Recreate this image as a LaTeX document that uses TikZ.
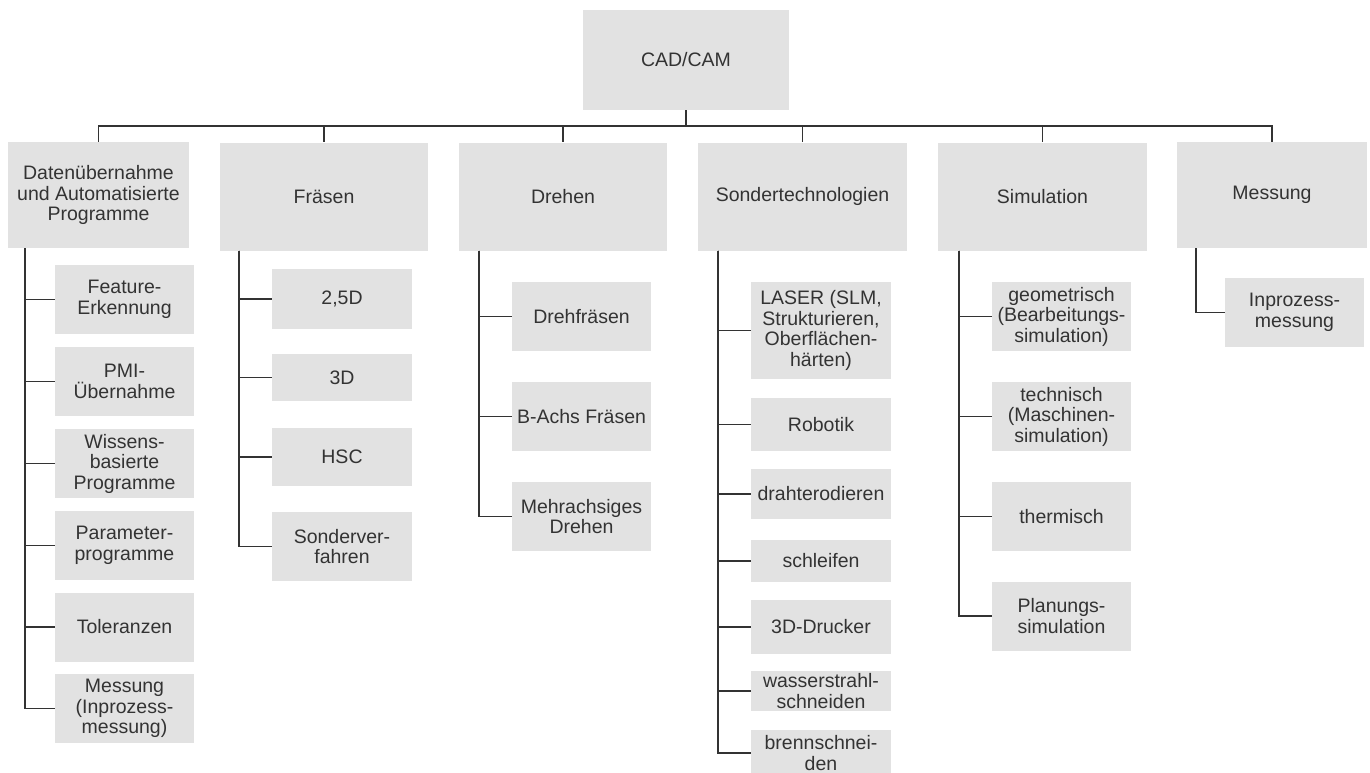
\documentclass[tikz,border=0pt]{standalone}
\usepackage{fontspec}
\setmainfont{Liberation Sans}
\definecolor{boxgray}{HTML}{E2E2E2}
\definecolor{linegray}{HTML}{333333}
\definecolor{txtgray}{HTML}{333333}

\begin{document}
\begin{tikzpicture}[x=1pt, y=-1pt,
    box/.style={fill=boxgray, inner sep=0pt, align=center, text=txtgray,
      font=\fontsize{19.5}{20.5}\selectfont},
    lone/.style={box, minimum width=208pt, minimum height=108pt},
    ltwo/.style={box, minimum width=139pt, minimum height=69pt},
    conn/.style={draw=linegray, line width=1.5pt}]
  \useasboundingbox (0,0) rectangle (1370,773);

  % top
  \node[box, minimum width=206pt, minimum height=100pt] (cad) at (686,60) {CAD/CAM};

  % first level
  \node[lone, minimum width=181pt, minimum height=106pt] (daten) at (98.5,195) {Datenübernahme\\und Automatisierte\\Programme};
  \node[lone] (fraesen) at (324,196.5) {Fräsen};
  \node[lone] (drehen) at (563,196.5) {Drehen};
  \node[lone, minimum width=209pt] (sonder) at (802.5,196.5) {Sondertechnologien};
  \node[lone, minimum width=209pt] (simul) at (1042.5,196.5) {Simulation};
  \node[lone, minimum width=190pt, minimum height=106pt] (mess) at (1272,195) {Messung};

  \foreach \n in {daten,fraesen,drehen,sonder,simul,mess}
    \draw[conn] (cad.south) -- ++(0,16) -| (\n.north);

  % Datenuebernahme
  \node[ltwo] (d1) at (124.5,299.5) {Feature-\\Erkennung};
  \node[ltwo] (d2) at (124.5,381.5) {PMI-\\Übernahme};
  \node[ltwo] (d3) at (124.5,463.5) {Wissens-\\basierte\\Programme};
  \node[ltwo] (d4) at (124.5,545.5) {Parameter-\\programme};
  \node[ltwo] (d5) at (124.5,627) {Toleranzen};
  \node[ltwo] (d6) at (124.5,708.5) {Messung\\(Inprozess-\\messung)};
  \foreach \n in {d1,d2,d3,d4,d5,d6}
    \draw[conn] ([xshift=17pt]daten.south west) |- (\n.west);

  % Fraesen
  \node[ltwo, minimum width=140pt, minimum height=60pt] (f1) at (342,299) {2,5D};
  \node[ltwo, minimum width=140pt, minimum height=47pt] (f2) at (342,377.5) {3D};
  \node[ltwo, minimum width=140pt, minimum height=58pt] (f3) at (342,457) {HSC};
  \node[ltwo, minimum width=140pt] (f4) at (342,546.5) {Sonderver-\\fahren};
  \foreach \n in {f1,f2,f3,f4}
    \draw[conn] ([xshift=19pt]fraesen.south west) |- (\n.west);

  % Drehen
  \node[ltwo] (t1) at (581.5,316.5) {Drehfräsen};
  \node[ltwo] (t2) at (581.5,416.5) {B-Achs Fräsen};
  \node[ltwo] (t3) at (581.5,516.5) {Mehrachsiges\\Drehen};
  \foreach \n in {t1,t2,t3}
    \draw[conn] ([xshift=20pt]drehen.south west) |- (\n.west);

  % Sondertechnologien
  \node[ltwo, minimum width=140pt, minimum height=97pt] (s1) at (821,330.5) {LASER (SLM,\\Strukturieren,\\Oberflächen-\\härten)};
  \node[ltwo, minimum width=140pt, minimum height=53pt] (s2) at (821,424.5) {Robotik};
  \node[ltwo, minimum width=140pt, minimum height=50pt] (s3) at (821,494) {drahterodieren};
  \node[ltwo, minimum width=140pt, minimum height=42pt] (s4) at (821,561) {schleifen};
  \node[ltwo, minimum width=140pt, minimum height=54pt] (s5) at (821,627) {3D-Drucker};
  \node[ltwo, minimum width=140pt, minimum height=40pt] (s6) at (821,691) {wasserstrahl-\\schneiden};
  \node[ltwo, minimum width=140pt, minimum height=46pt] (s7) at (821,753) {brennschnei-\\den};
  \foreach \n in {s1,s2,s3,s4,s5,s6,s7}
    \draw[conn] ([xshift=20pt]sonder.south west) |- (\n.west);

  % Simulation
  \node[ltwo] (m1) at (1061.5,316.5) {geometrisch\\(Bearbeitungs-\\simulation)};
  \node[ltwo] (m2) at (1061.5,416.5) {technisch\\(Maschinen-\\simulation)};
  \node[ltwo] (m3) at (1061.5,516.5) {thermisch};
  \node[ltwo] (m4) at (1061.5,616) {Planungs-\\simulation};
  \foreach \n in {m1,m2,m3,m4}
    \draw[conn] ([xshift=21pt]simul.south west) |- (\n.west);

  % Messung
  \node[ltwo] (p1) at (1294.5,312.5) {Inprozess-\\messung};
  \draw[conn] ([xshift=19pt]mess.south west) |- (p1.west);
\end{tikzpicture}
\end{document}
